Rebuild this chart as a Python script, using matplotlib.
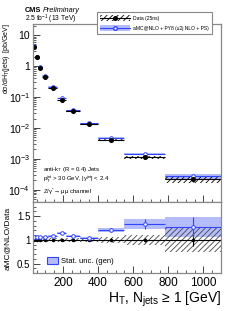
import numpy as np
import matplotlib
matplotlib.use("Agg")
import matplotlib.pyplot as plt
from matplotlib.patches import Patch
from matplotlib.lines import Line2D
from matplotlib.ticker import MultipleLocator, LogLocator, FuncFormatter, NullFormatter

plt.rcParams['font.family'] = ['Liberation Sans', 'DejaVu Sans']
plt.rcParams['mathtext.fontset'] = 'custom'
plt.rcParams['mathtext.rm'] = 'Liberation Sans'
plt.rcParams['mathtext.it'] = 'Liberation Sans:italic'
plt.rcParams['mathtext.bf'] = 'Liberation Sans:bold'
plt.rcParams['hatch.linewidth'] = 0.6

# HT bins (GeV) and measured cross sections
bin_edges = [30, 41, 59, 83, 118, 168, 220, 300, 400, 550, 780, 1100]
data_xsec = [4.3, 1.9, 0.86, 0.46, 0.20, 0.080, 0.035, 0.0134, 0.0040, 0.00111, 0.000214]
data_stat = [0.005, 0.005, 0.005, 0.006, 0.008, 0.01, 0.015, 0.02, 0.03, 0.05, 0.14]
data_syst = [0.05, 0.05, 0.05, 0.05, 0.05, 0.05, 0.05, 0.05, 0.07, 0.10, 0.25]

# aMC@NLO / data ratio and MC stat. uncertainty (relative)
ratio = [1.07, 1.07, 1.06, 1.07, 1.08, 1.15, 1.08, 1.04, 1.21, 1.33, 1.27]
mc_stat = [0.01, 0.01, 0.01, 0.01, 0.015, 0.02, 0.02, 0.025, 0.04, 0.08, 0.16]

blue = '#2f45ff'
lightblue = '#b4bcfa'

edges = np.array(bin_edges, dtype=float)
lo, hi = edges[:-1], edges[1:]
ctr = (lo + hi) / 2
wid = hi - lo
data = np.array(data_xsec)
r = np.array(ratio)
mc = data * r
dstat = np.array(data_stat)
dsyst = np.array(data_syst)
mstat = np.array(mc_stat)

fig = plt.figure(figsize=(2.4, 3.11), dpi=100)
ax = fig.add_axes([33/240, 1-202/311, 188/240, 178/311])
rax = fig.add_axes([33/240, 1-273/311, 188/240, 71/311], sharex=ax)

# top panel
ax.bar(lo, mc*2*mstat, bottom=mc*(1-mstat), width=wid, align='edge', color=lightblue, lw=0)
ax.bar(lo, data*2*dsyst, bottom=data*(1-dsyst), width=wid, align='edge',
       facecolor='none', edgecolor='black', hatch='//////', lw=0)
ax.hlines(mc, lo, hi, color=blue, lw=0.8)
ax.plot(ctr, mc, 'o', mfc='white', mec=blue, ms=2.6, mew=0.7)
ax.errorbar(ctr, data, xerr=wid/2, yerr=data*dstat, fmt='o', color='black', ms=2.6, lw=0.8, capsize=0)

ax.set_yscale('log')
ax.set_xlim(30, 1100)
ax.set_ylim(4e-5, 23)

def decade_fmt(v, pos):
    e = int(round(np.log10(v)))
    if e == 0:
        return '1'
    if e == 1:
        return '10'
    return r'10$^{%d}$' % e

ax.yaxis.set_major_locator(LogLocator(base=10, numticks=20))
ax.yaxis.set_minor_locator(LogLocator(base=10, subs=np.arange(2, 10), numticks=20))
ax.yaxis.set_major_formatter(FuncFormatter(decade_fmt))
ax.yaxis.set_minor_formatter(NullFormatter())
ax.xaxis.set_major_locator(MultipleLocator(200))
ax.xaxis.set_minor_locator(MultipleLocator(50))
ax.tick_params(which='both', direction='in', top=False, right=False, labelbottom=False,
               color='#444444', labelsize=7.5, pad=2)
ax.tick_params(which='major', length=5, width=0.7)
ax.tick_params(which='minor', length=2.5, width=0.6)

# ratio panel
rax.bar(lo, r*2*mstat, bottom=r*(1-mstat), width=wid, align='edge', color=lightblue, lw=0)
rax.bar(lo, 2*dsyst, bottom=1-dsyst, width=wid, align='edge',
        facecolor='none', edgecolor='#444444', hatch='//////', lw=0)
rax.errorbar(ctr, np.ones_like(ctr), xerr=wid/2, yerr=dstat, fmt='o', color='black',
             ms=1.5, lw=0.8, capsize=0)
rax.errorbar(ctr, r, xerr=wid/2, yerr=r*mstat, fmt='o', color=blue, mfc='white', mec=blue,
             ms=2.6, mew=0.7, lw=0.8, capsize=0)
rax.set_ylim(0.3, 1.8)
rax.yaxis.set_major_locator(MultipleLocator(0.5))
rax.yaxis.set_minor_locator(MultipleLocator(0.1))
rax.yaxis.set_major_formatter(FuncFormatter(lambda v, p: '%g' % v))
rax.tick_params(which='both', direction='in', top=False, right=False,
                color='#444444', pad=2)
rax.tick_params(axis='x', labelsize=8.5, pad=3)
rax.tick_params(axis='y', labelsize=7)
rax.tick_params(which='major', length=5, width=0.7)
rax.tick_params(which='minor', length=2.5, width=0.6)

for a in (ax, rax):
    for s in a.spines.values():
        s.set_color('#888888')
        s.set_linewidth(0.9)

rax.legend(handles=[Patch(facecolor=lightblue, edgecolor=blue, lw=0.8)],
           labels=['Stat. unc. (gen)'], loc='lower left', frameon=False, fontsize=5.5,
           handlelength=1.45, handleheight=0.9, handletextpad=0.4,
           bbox_to_anchor=(40/240, 1-272/311), bbox_transform=fig.transFigure)

# legend of top panel
h_data = (Patch(facecolor='none', edgecolor='black', hatch='//////', lw=0),
          Line2D([], [], color='black', marker='o', ms=2.6, lw=0.8))
h_mc = (Patch(facecolor=lightblue, edgecolor='none'),
        Line2D([], [], color=blue, marker='o', mfc='white', mec=blue, ms=2.6, lw=0.8))
leg = fig.legend([h_data, h_mc], ['Data (25ns)', 'aMC@NLO + PY8 (≤2j NLO + PS)'],
                 loc='upper left', bbox_to_anchor=(94/240, 1-9.5/311), fontsize=3.6,
                 handlelength=6, handleheight=1.3, handletextpad=0.6, borderpad=0.7,
                 labelspacing=0.9, fancybox=False, edgecolor='#888888', framealpha=1)
leg.get_frame().set_linewidth(0.8)

# labels and texts
fig.text(25/240, 1-10/311, 'CMS', fontsize=5.3, fontweight='bold', va='center')
fig.text(43/240, 1-10/311, 'Preliminary', fontsize=5.3, style='italic', va='center')
fig.text(25/240, 1-19/311, r'2.5 fb$^{-1}$ (13 TeV)', fontsize=4.8, va='center')

fig.text(43/240, 1-169/311, r'anti-k$_{\rm T}$ (R = 0.4) Jets', fontsize=4.3, va='center')
fig.text(43/240, 1-179.5/311, r'p$_{\rm T}^{\rm jet}$ > 30 GeV, |y$^{\rm jet}$| < 2.4',
         fontsize=4.3, va='center')
fig.text(43/240, 1-191.5/311, r'Z/γ$^{*}$→ μμ channel', fontsize=4.3, va='center')

fig.text(7/240, 1-23/311, r'dσ/dH$_{\rm T}$(jets)  [pb/GeV]', rotation=90,
         fontsize=5, ha='center', va='top')
fig.text(7/240, 1-207/311, 'aMC@NLO/Data', rotation=90, fontsize=6, ha='center', va='top')
fig.text(221/240, 1-299/311, r'H$_{\rm T}$, N$_{\rm jets}$ ≥ 1 [GeV]', fontsize=10,
         ha='right', va='center')

fig.savefig('out.png', dpi=100)
